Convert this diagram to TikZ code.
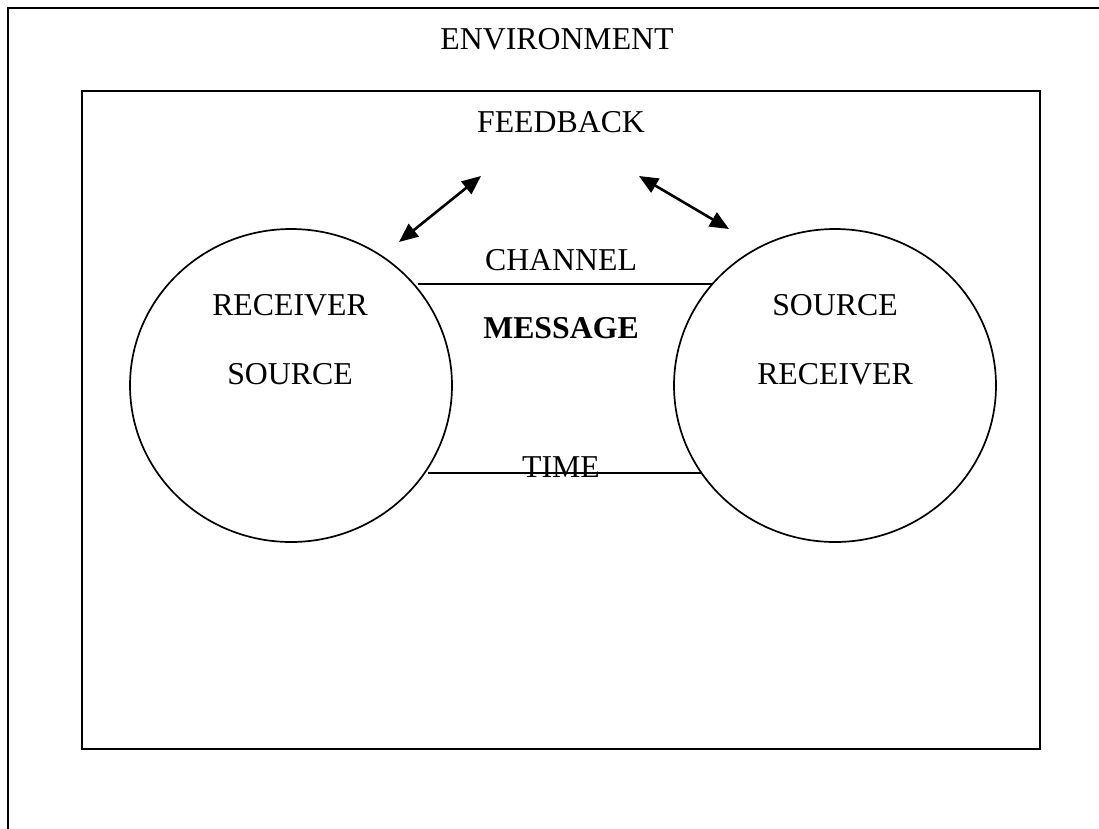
\documentclass[tikz,border=0pt]{standalone}
\usepackage{fontspec}
\setmainfont{Liberation Serif}
\usetikzlibrary{arrows.meta,shapes.geometric}
\begin{document}
\begin{tikzpicture}[x=1pt,y=-1pt,
  lbl/.style={font=\fontsize{31.8}{38}\selectfont, inner sep=0pt, anchor=base},
  frame/.style={line width=2pt, draw=black},
  party/.style={draw, ellipse, line width=1.7pt, minimum width=322pt, minimum height=313pt, inner sep=0pt},
  link/.style={line width=2pt},
  fb/.style={line width=2.6pt, {Triangle[length=19pt,width=16pt]}-{Triangle[length=19pt,width=16pt]}}]
\useasboundingbox (0,0) rectangle (1099,828);
\clip (0,0) rectangle (1099,828);
% outer environment frame (open to right and bottom)
\draw[frame] (8,840) -- (8,8) -- (1110,8);
% inner frame
\draw[frame] (82,91) rectangle (1040,749);
% labels
\node[lbl] (env) at (557,49) {ENVIRONMENT};
\node[lbl] (feedback) at (561,132) {FEEDBACK};
% circles
\node[party] (left) at (291,385.5) {};
\node[party] (right) at (835,385.5) {};
\node[lbl] (lr) at (290,315) {RECEIVER};
\node[lbl] (ls) at (290,384) {SOURCE};
\node[lbl] (rs) at (835,315) {SOURCE};
\node[lbl] (rr) at (835,384) {RECEIVER};
% channel and time lines
\coordinate (chL) at (418,284);
\coordinate (chR) at (712,284);
\coordinate (tL) at (428,473);
\coordinate (tR) at (702,473);
\draw[link] (chL) -- (chR);
\draw[link] (tL) -- (tR);
\node[lbl] (channel) at (561,270) {CHANNEL};
\node[lbl] (message) at (561,338) {\bfseries MESSAGE};
\node[lbl] (time) at (561,477) {TIME};
% feedback arrows
\coordinate (a1s) at (399,242);
\coordinate (a1e) at (481,176);
\coordinate (a2s) at (639,176);
\coordinate (a2e) at (729,229);
\draw[fb] (a1s) -- (a1e);
\draw[fb] (a2s) -- (a2e);
\end{tikzpicture}
\end{document}
